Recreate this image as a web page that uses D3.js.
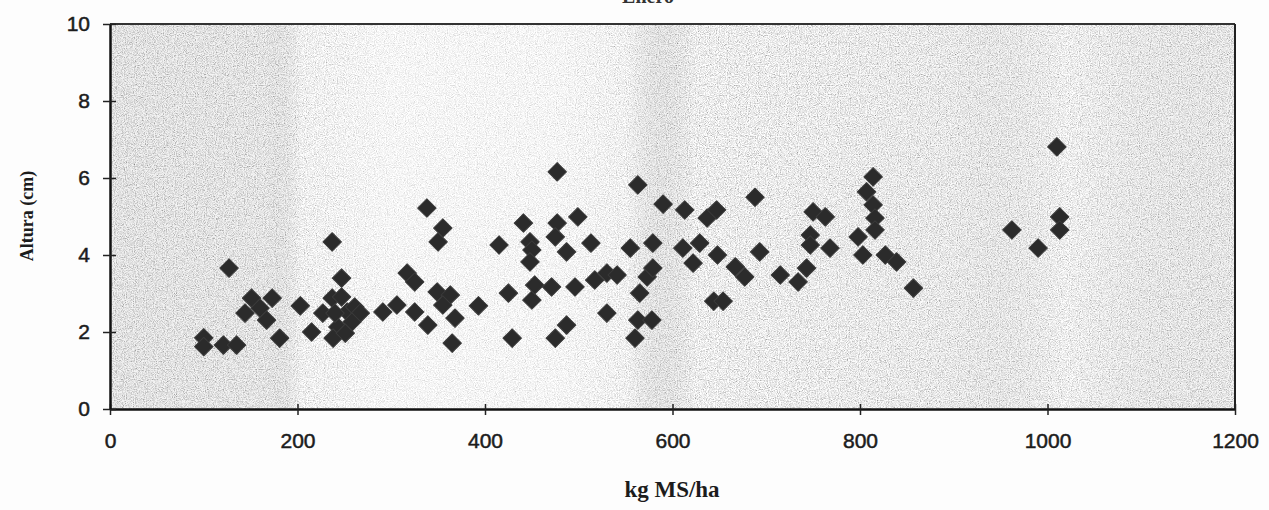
<!DOCTYPE html>
<html>
<head>
<meta charset="utf-8">
<script src="https://cdn.jsdelivr.net/npm/d3@7"></script>
<style>
  html, body { margin: 0; padding: 0; background: #fdfdfd; }
  svg { display: block; }
</style>
</head>
<body>
<svg id="chart" width="1269" height="510"></svg>
<script>
// Forage mass (kg MS/ha) against sward height (cm)
const kgMS = [
  100, 100, 121, 135, 127, 151, 173, 144, 160, 167,
  181, 203, 215, 237, 247, 227, 237, 247, 253, 261,
  267, 258, 243, 238, 251, 240, 291, 306, 325, 317,
  325, 338, 355, 350, 339, 349, 363, 355, 368, 365,
  393, 415, 425, 429, 441, 448, 450, 448, 450, 453,
  471, 477, 477, 475, 475, 487, 487, 499, 496, 513,
  517, 530, 541, 530, 555, 563, 565, 563, 578, 560,
  573, 579, 579, 590, 613, 611, 629, 622, 637, 647,
  648, 644, 654, 667, 677, 688, 693, 715, 734, 743,
  747, 747, 750, 763, 768, 798, 803, 807, 814, 814,
  816, 816, 827, 839, 857, 962, 990, 1010, 1013, 1013
];
const altura = [
  1.85, 1.62, 1.66, 1.66, 3.66, 2.88, 2.88, 2.49, 2.62, 2.31,
  1.84, 2.68, 2.00, 4.34, 3.40, 2.49, 2.88, 2.91, 2.52, 2.65,
  2.49, 2.26, 2.13, 1.84, 1.97, 2.49, 2.52, 2.70, 2.52, 3.53,
  3.30, 5.22, 4.70, 4.34, 2.18, 3.04, 2.96, 2.70, 2.36, 1.71,
  2.68, 4.26, 3.01, 1.84, 4.83, 4.34, 4.13, 3.82, 2.83, 3.22,
  3.17, 6.16, 4.83, 4.47, 1.84, 4.08, 2.18, 4.99, 3.17, 4.31,
  3.35, 3.53, 3.48, 2.49, 4.18, 5.82, 3.01, 2.31, 2.31, 1.84,
  3.43, 3.66, 4.31, 5.32, 5.17, 4.18, 4.31, 3.79, 4.96, 5.17,
  4.00, 2.80, 2.80, 3.69, 3.43, 5.50, 4.08, 3.48, 3.30, 3.66,
  4.52, 4.26, 5.12, 4.99, 4.18, 4.47, 4.00, 5.64, 6.03, 5.30,
  4.96, 4.65, 4.00, 3.82, 3.14, 4.65, 4.18, 6.81, 4.99, 4.65
];
const xTicks = [0, 200, 400, 600, 800, 1000, 1200];
const yTicks = [0, 2, 4, 6, 8, 10];
const chartTitle = "Enero";
const xTitle = "kg MS/ha";
const yTitle = "Altura (cm)";

const svg = d3.select("#chart");
const plotL = 110, plotR = 1235, plotT = 24, plotB = 409;

const x = d3.scaleLinear().domain([0, 1200]).range([plotL, plotR]);
const y = d3.scaleLinear().domain([0, 10]).range([plotB, plotT]);

// grainy grey plot background
const defs = svg.append("defs");
const grain = defs.append("filter").attr("id", "grain")
  .attr("x", 0).attr("y", 0).attr("width", "100%").attr("height", "100%");
grain.append("feTurbulence").attr("type", "fractalNoise")
  .attr("baseFrequency", 0.9).attr("numOctaves", 2).attr("seed", 11).attr("stitchTiles", "stitch");
grain.append("feColorMatrix").attr("type", "matrix")
  .attr("values", "0.33 0.33 0.33 0 0  0.33 0.33 0.33 0 0  0.33 0.33 0.33 0 0  0 0 0 0 1");
const ct = grain.append("feComponentTransfer");
["feFuncR", "feFuncG", "feFuncB"].forEach(f =>
  ct.append(f).attr("type", "linear").attr("slope", 2.1).attr("intercept", -0.2));

const shade = defs.append("linearGradient").attr("id", "shade")
  .attr("x1", "0%").attr("x2", "100%").attr("y1", "0%").attr("y2", "0%");
[
  [0, "#000", 0.05], [0.14, "#000", 0.04], [0.17, "#fff", 0.15],
  [0.25, "#fff", 0.5], [0.40, "#fff", 0.45], [0.46, "#fff", 0.2],
  [0.52, "#000", 0.0], [0.75, "#000", 0.02], [0.85, "#fff", 0.1], [1, "#000", 0.03]
].forEach(([o, c, a]) => shade.append("stop").attr("offset", o).attr("stop-color", c).attr("stop-opacity", a));

svg.append("rect").attr("x", plotL).attr("y", plotT)
  .attr("width", plotR - plotL).attr("height", plotB - plotT)
  .attr("fill", "#d2d2d2").attr("filter", "url(#grain)");
svg.append("rect").attr("x", plotL).attr("y", plotT)
  .attr("width", plotR - plotL).attr("height", plotB - plotT)
  .attr("fill", "url(#shade)");

// frame: top and right edges
svg.append("line").attr("x1", plotL).attr("x2", plotR).attr("y1", plotT).attr("y2", plotT)
  .attr("stroke", "#333").attr("stroke-width", 2);
svg.append("line").attr("x1", plotR).attr("x2", plotR).attr("y1", plotT).attr("y2", plotB)
  .attr("stroke", "#222").attr("stroke-width", 2);

const tickFont = "'Liberation Sans', Arial, sans-serif";

// x axis
const gx = svg.append("g").attr("transform", `translate(0,${plotB})`)
  .call(d3.axisBottom(x).tickValues(xTicks).tickFormat(d3.format("d")).tickSizeOuter(0));
gx.select(".domain").attr("stroke", "#111").attr("stroke-width", 2.5);
gx.selectAll(".tick line").attr("y1", -5).attr("y2", 6).attr("stroke", "#222").attr("stroke-width", 1.5);
gx.selectAll(".tick text").attr("y", 24).attr("font-size", 21)
  .attr("font-family", tickFont).attr("fill", "#1c1c1c")
  .attr("stroke", "#1c1c1c").attr("stroke-width", 0.5);

// y axis
const gy = svg.append("g").attr("transform", `translate(${plotL},0)`)
  .call(d3.axisLeft(y).tickValues(yTicks).tickFormat(d3.format("d")).tickSizeOuter(0));
gy.select(".domain").attr("stroke", "#111").attr("stroke-width", 2.5);
gy.selectAll(".tick line").attr("x1", -7).attr("x2", 6).attr("stroke", "#222").attr("stroke-width", 1.5);
gy.selectAll(".tick text").attr("x", -20).attr("font-size", 21)
  .attr("font-family", tickFont).attr("fill", "#1c1c1c")
  .attr("stroke", "#1c1c1c").attr("stroke-width", 0.5);

// points: dark diamonds
const diamond = d3.symbol().type(d3.symbolSquare).size(170);
svg.append("g").selectAll("path")
  .data(kgMS.map((v, i) => [v, altura[i]]))
  .join("path")
  .attr("d", diamond)
  .attr("transform", d => `translate(${x(d[0])},${y(d[1])}) rotate(45)`)
  .attr("fill", "#2b2b2b")
  .attr("stroke", "#3a3a3a")
  .attr("stroke-width", 1)
  .attr("stroke-linejoin", "round");

// titles
const serif = "'Liberation Serif', 'Times New Roman', serif";
svg.append("text").attr("x", 648).attr("y", 3)
  .attr("text-anchor", "middle").attr("font-family", serif)
  .attr("font-weight", "bold").attr("font-size", 20).attr("fill", "#333")
  .text(chartTitle);
svg.append("text").attr("x", 672).attr("y", 497)
  .attr("text-anchor", "middle").attr("font-family", serif)
  .attr("font-weight", "bold").attr("font-size", 23).attr("fill", "#1c1c1c")
  .text(xTitle);
svg.append("text").attr("transform", "translate(33,216) rotate(-90)")
  .attr("text-anchor", "middle").attr("font-family", serif)
  .attr("font-weight", "bold").attr("font-size", 18).attr("fill", "#1c1c1c")
  .text(yTitle);
</script>
</body>
</html>
